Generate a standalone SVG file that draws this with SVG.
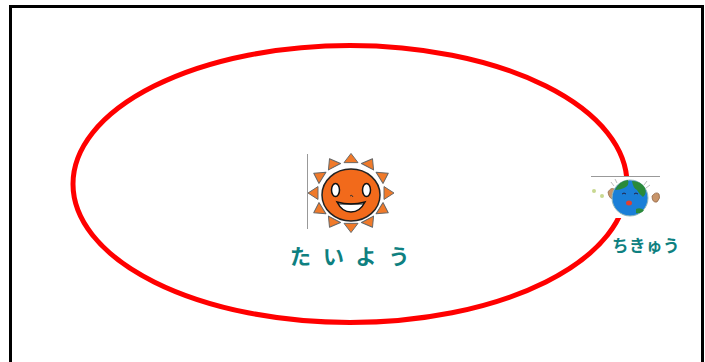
<svg xmlns="http://www.w3.org/2000/svg" width="705" height="362" viewBox="0 0 705 362">
  <style>
    .frame { fill: none; stroke: #000; stroke-width: 3; }
    .orbit { fill: none; stroke: #ff0000; stroke-width: 5; }
    .label { font-family: "Noto Sans CJK JP", "Noto Sans", sans-serif; fill: #0e8080; font-weight: bold; }
    .ray { fill: #f07a2a; stroke: #666; stroke-width: 1; stroke-linejoin: round; }
    .edge { stroke: #999; stroke-width: 1; }
  </style>
  <rect x="0" y="0" width="705" height="362" fill="#fff"/>
  <!-- outer frame (open at the bottom) -->
  <path class="frame" d="M10.5,362 V6.5 H702.5 V362"/>

  <g id="connectors">
    <ellipse class="orbit" cx="350" cy="184" rx="277" ry="138.5"/>
  </g>

  <g id="sun">
    <line class="edge" x1="307.5" y1="154" x2="307.5" y2="229"/>
    <g transform="translate(351,193) scale(1,0.92)">
      <polygon class="ray" points="-7,-33 7,-33 0,-43" transform="rotate(0)"/>
      <polygon class="ray" points="-7,-33 7,-33 0,-43" transform="rotate(30)"/>
      <polygon class="ray" points="-7,-33 7,-33 0,-43" transform="rotate(60)"/>
      <polygon class="ray" points="-7,-33 7,-33 0,-43" transform="rotate(90)"/>
      <polygon class="ray" points="-7,-33 7,-33 0,-43" transform="rotate(120)"/>
      <polygon class="ray" points="-7,-33 7,-33 0,-43" transform="rotate(150)"/>
      <polygon class="ray" points="-7,-33 7,-33 0,-43" transform="rotate(180)"/>
      <polygon class="ray" points="-7,-33 7,-33 0,-43" transform="rotate(210)"/>
      <polygon class="ray" points="-7,-33 7,-33 0,-43" transform="rotate(240)"/>
      <polygon class="ray" points="-7,-33 7,-33 0,-43" transform="rotate(270)"/>
      <polygon class="ray" points="-7,-33 7,-33 0,-43" transform="rotate(300)"/>
      <polygon class="ray" points="-7,-33 7,-33 0,-43" transform="rotate(330)"/>
    </g>
    <ellipse cx="351" cy="195" rx="29" ry="26" fill="#f26a1b" stroke="#222" stroke-width="1.5"/>
    <ellipse cx="335.5" cy="190" rx="4" ry="6.5" fill="#fff" stroke="#111" stroke-width="1.5"/>
    <ellipse cx="366.5" cy="190" rx="4" ry="6.5" fill="#fff" stroke="#111" stroke-width="1.5"/>
    <path d="M350,196 q2,-2 3,1" fill="none" stroke="#333" stroke-width="1"/>
    <path d="M337,202 Q351,206 365,202 Q360,212 351,212 Q342,212 337,202 Z" fill="#fff" stroke="#111" stroke-width="1.5"/>
    <line x1="338" y1="204" x2="364" y2="204" stroke="#111" stroke-width="1"/>
    <text class="label" x="290" y="264" font-size="21" letter-spacing="12">たいよう</text>
  </g>

  <g id="earth">
    <rect x="592" y="177" width="68" height="41" fill="#fff"/>
    <line class="edge" x1="591" y1="176.5" x2="660" y2="176.5"/>
    <circle cx="594" cy="191" r="2" fill="#c8d890"/>
    <circle cx="602" cy="196" r="2" fill="#c8d890"/>
    <path d="M608,192 q3,-5 6,-3 q3,1 1,10 q-6,1 -7,-7 Z" fill="#c8956a" stroke="#8a6040" stroke-width="0.7"/>
    <path d="M652,196 q4,-5 7,-2 q2,4 -2,8 q-5,1 -5,-6 Z" fill="#c8956a" stroke="#8a6040" stroke-width="0.7"/>
    <circle cx="630" cy="198" r="18" fill="#1a7fd8" stroke="#9bb" stroke-width="1"/>
    <path d="M615,190 q4,-9 13,-10 q2,5 -4,8 q-4,2 -9,2 Z" fill="#2a8a3a"/>
    <path d="M632,181 q9,0 13,7 q2,6 -2,9 q-4,-3 -6,-7 q-4,-2 -5,-9 Z" fill="#2a8a3a"/>
    <path d="M636,209 q4,-2 8,1 q-3,4 -8,3 Z" fill="#2a8a3a"/>
    <path d="M622,194 q2,-2 4,0" fill="none" stroke="#224" stroke-width="1"/>
    <path d="M634,194 q2,-2 4,0" fill="none" stroke="#224" stroke-width="1"/>
    <ellipse cx="629" cy="203" rx="3" ry="2.5" fill="#e04030"/>
    <path d="M614,186 l-3,-4 M617,183 l-2,-4 M644,185 l3,-4 M646,188 l4,-3" stroke="#aaa" stroke-width="0.8"/>
    <text class="label" x="612" y="252" font-size="16.5" letter-spacing="0.5">ちきゅう</text>
  </g>
</svg>
